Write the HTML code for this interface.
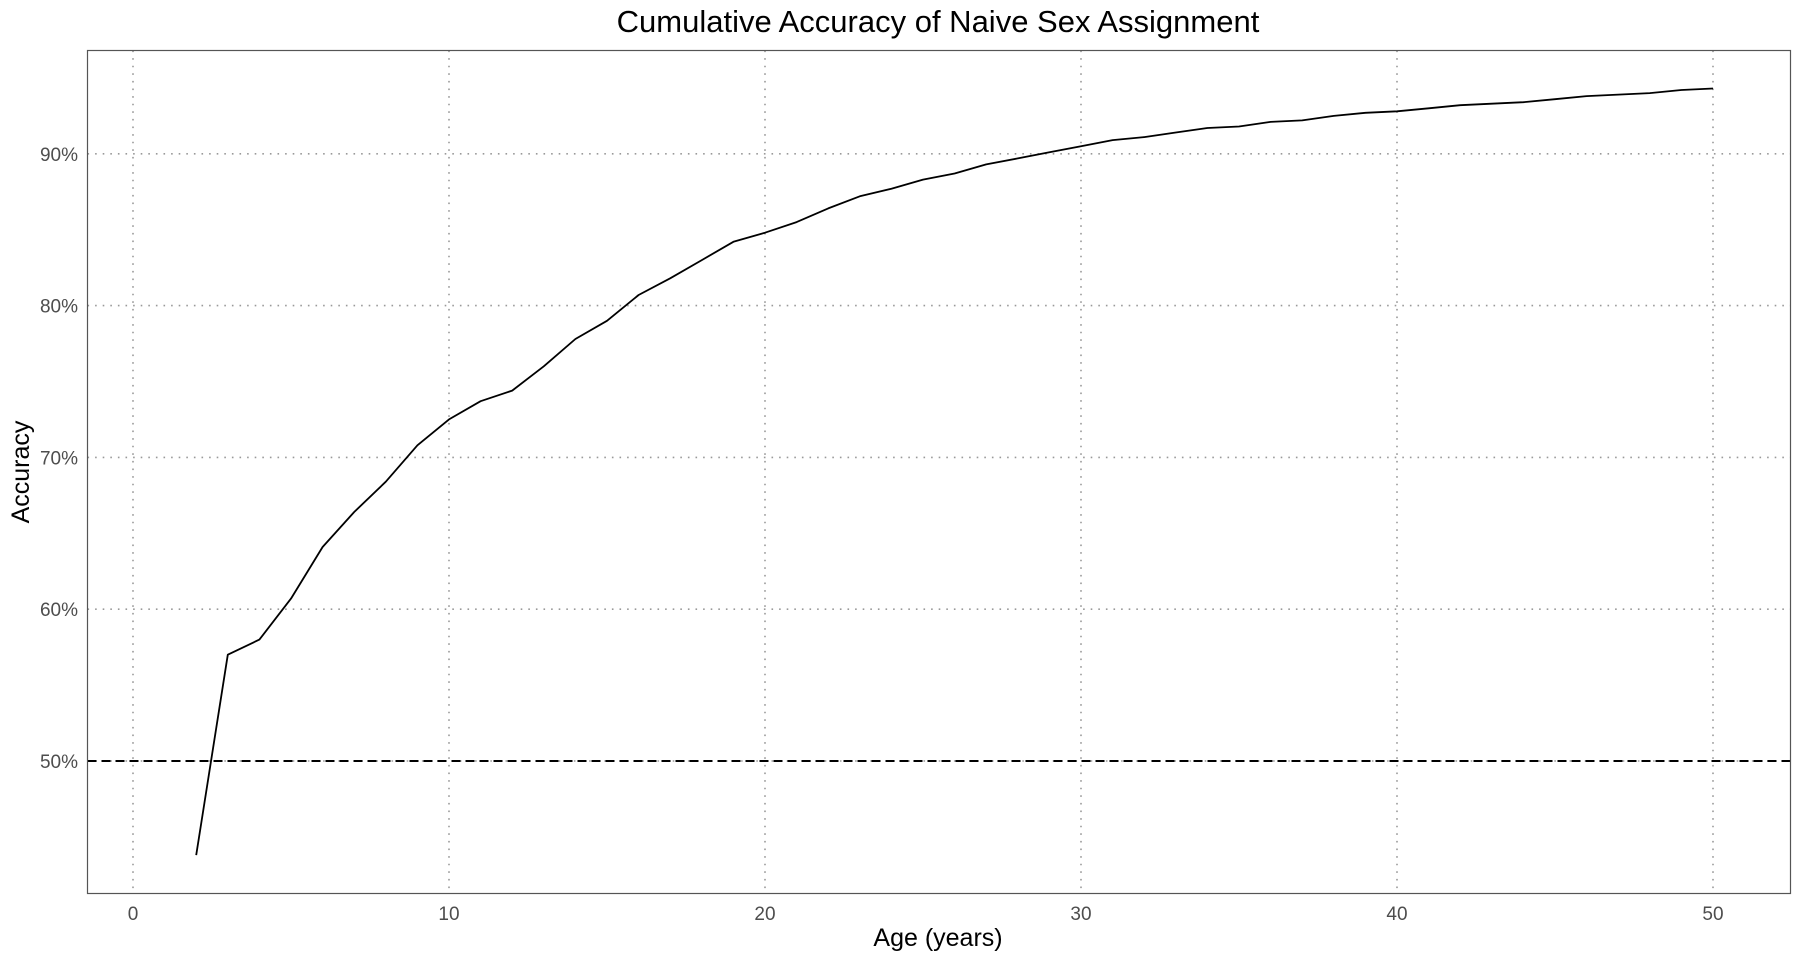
<!DOCTYPE html>
<html><head><meta charset="utf-8"><style>
html,body{margin:0;padding:0;background:#fff;}
svg{display:block;font-family:"Liberation Sans",Arial,sans-serif;}
</style></head><body>
<svg id="chart" width="1800" height="960">
<text x="938" y="32" text-anchor="middle" font-size="31" fill="#000">Cumulative Accuracy of Naive Sex Assignment</text>
<g id="grid"></g>
<g id="marks"></g>
<rect x="87.5" y="50.5" width="1703" height="843" fill="none" stroke="#555" stroke-width="1.2"/>
<text x="938" y="946" text-anchor="middle" font-size="25" fill="#000">Age (years)</text>
<text x="0" y="0" transform="translate(29,472) rotate(-90)" text-anchor="middle" font-size="25" fill="#000">Accuracy</text>
</svg>
<script>
const ages = [2,3,4,5,6,7,8,9,10,11,12,13,14,15,16,17,18,19,20,21,22,23,24,25,26,27,28,29,30,31,32,33,34,35,36,37,38,39,40,41,42,43,44,45,46,47,48,49,50];
const accuracy = [43.8,57.0,58.0,60.7,64.1,66.4,68.4,70.8,72.5,73.7,74.4,76.0,77.8,79.0,80.7,81.8,83.0,84.2,84.8,85.5,86.4,87.2,87.7,88.3,88.7,89.3,89.7,90.1,90.5,90.9,91.1,91.4,91.7,91.8,92.1,92.2,92.5,92.7,92.8,93.0,93.2,93.3,93.4,93.6,93.8,93.9,94.0,94.2,94.3];
const xTicks = [0,10,20,30,40,50];
const yTicks = [50,60,70,80,90];
const refLine = 50;

const NS = "http://www.w3.org/2000/svg";
const X0 = 87.5, X1 = 1790.5, Y0 = 50.5, Y1 = 893.5;
function xs(v){ return 133 + (v - 0) * (1713 - 133) / 50; }
function ys(v){ return 761 - (v - 50) * 15.18; }
function mk(tag, attrs, parent){ const e = document.createElementNS(NS, tag); for (const k in attrs) e.setAttribute(k, attrs[k]); parent.appendChild(e); return e; }

const grid = document.getElementById('grid');
const marks = document.getElementById('marks');
const svg = document.getElementById('chart');

xTicks.forEach(t => {
  const l = mk('line', {x1: xs(t), x2: xs(t), y1: Y0, y2: Y1, stroke: '#999', 'stroke-width': 1.6, 'stroke-dasharray': '1.6 6'}, grid);
  
  
  const tx = mk('text', {x: xs(t), y: 920, 'text-anchor': 'middle', 'font-size': 19, fill: '#4d4d4d'}, svg);
  tx.textContent = t;
  
  
});
yTicks.forEach(t => {
  const l = mk('line', {x1: X0, x2: X1, y1: ys(t), y2: ys(t), stroke: '#999', 'stroke-width': 1.6, 'stroke-dasharray': '1.6 6'}, grid);
  
  
  const tx = mk('text', {x: 78, y: ys(t) + 7, 'text-anchor': 'end', 'font-size': 19, fill: '#4d4d4d'}, svg);
  tx.textContent = t + '%';
  
  
});

const ref = mk('line', {x1: X0, x2: X1, y1: ys(refLine), y2: ys(refLine), stroke: '#000', 'stroke-width': 2, 'stroke-dasharray': '9 5'}, marks);



const pts = ages.map((a, i) => xs(a).toFixed(1) + ',' + ys(accuracy[i]).toFixed(1)).join(' ');
const line = mk('polyline', {points: pts, fill: 'none', stroke: '#000', 'stroke-width': 1.8, 'stroke-linejoin': 'round'}, marks);


</script>
</body></html>
